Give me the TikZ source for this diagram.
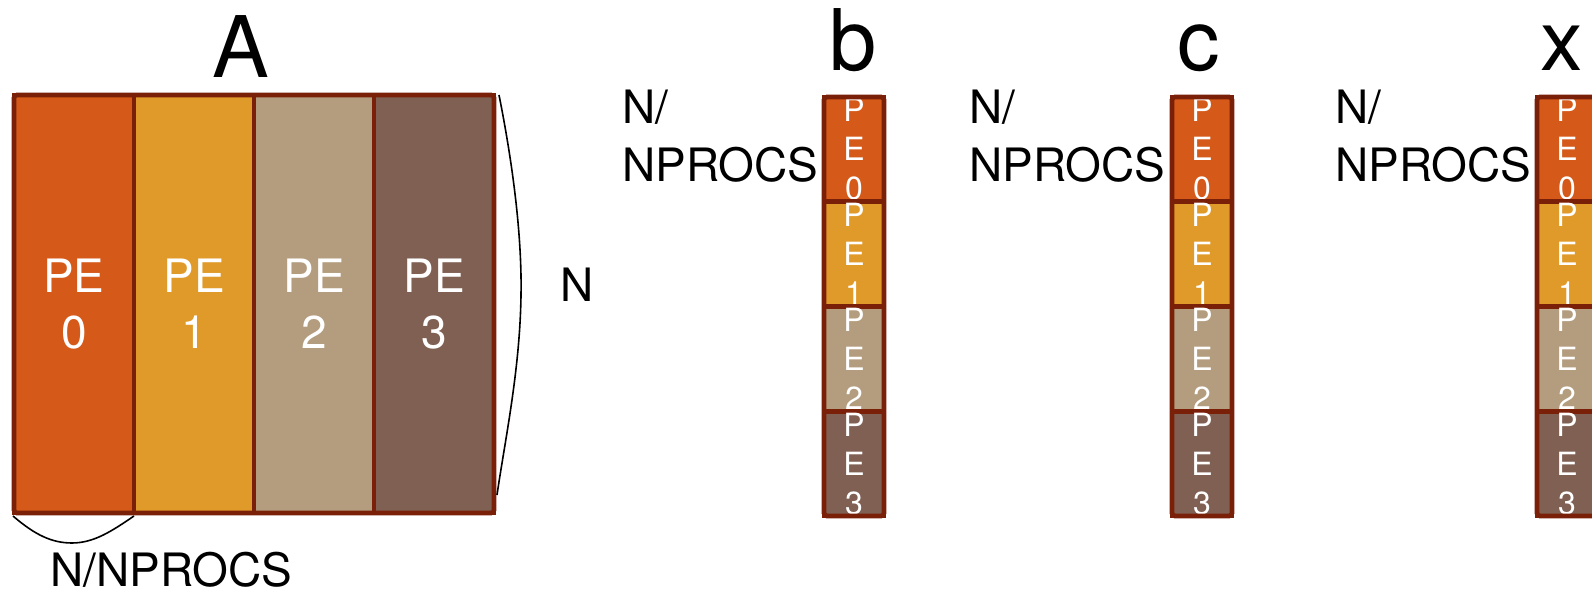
\documentclass[tikz,border=0pt]{standalone}
\usepackage{fontspec}
\setmainfont{TeX Gyre Heros}
\definecolor{pezero}{HTML}{D55A1A}
\definecolor{peone}{HTML}{E09A29}
\definecolor{petwo}{HTML}{B39D7E}
\definecolor{pethree}{HTML}{7F6053}
\definecolor{edge}{HTML}{7A2008}
\begin{document}
\begin{tikzpicture}[x=0.5pt,y=-0.5pt,
  bigcell/.style={draw=edge, line width=2.4pt, minimum width=60pt, minimum height=209pt, inner sep=0pt, outer sep=0pt, text=white, align=center, font=\fontsize{23}{28}\selectfont},
  vcell/.style={draw=edge, line width=2.4pt, minimum width=30pt, minimum height=52.375pt, inner sep=0pt, outer sep=0pt, text=white, align=center, font=\fontsize{16}{19.5}\selectfont},
  frame/.style={draw=edge, line width=2.4pt, rounded corners=1.5pt},
  title/.style={font=\fontsize{42.5}{50}\selectfont, anchor=base, inner sep=0pt},
  lbl/.style={font=\fontsize{23}{29}\selectfont, inner sep=0pt, align=left, anchor=base west},
  brace/.style={draw=black, line width=0.8pt}
]
\useasboundingbox (0,0) rectangle (1592,592);

% matrix A
\node[bigcell, fill=pezero]  (A0) at (74,304)  {PE\\0};
\node[bigcell, fill=peone]   (A1) at (194,304) {PE\\1};
\node[bigcell, fill=petwo]   (A2) at (314,304) {PE\\2};
\node[bigcell, fill=pethree] (A3) at (434,304) {PE\\3};
\draw[frame] (A0.north west) rectangle (A3.south east);
\node[title] (tA) at (241,78) {A};
\draw[brace] (499,95) .. controls (514,170) and (522,240) .. (521,295) .. controls (520,370) and (505,440) .. (497,495);
\node[lbl] (lN) at (560,302) {N};
\draw[brace] (13,516) .. controls (35,535) and (52,543) .. (72,543) .. controls (94,543) and (112,531) .. (134,516);
\node[lbl] (lNb) at (50,587) {N/NPROCS};

% vectors b, c, x
\foreach \name/\cx/\tx/\lx in {b/854/853/622, c/1202/1199/969, x/1567/1562/1335}{
  \node[vcell, fill=pezero]  (\name0) at (\cx,149.375) {P\\E\\0};
  \node[vcell, fill=peone]   (\name1) at (\cx,254.125) {P\\E\\1};
  \node[vcell, fill=petwo]   (\name2) at (\cx,358.875) {P\\E\\2};
  \node[vcell, fill=pethree] (\name3) at (\cx,463.625) {P\\E\\3};
  \draw[frame] (\name0.north west) rectangle (\name3.south east);
  \node[title] (t\name) at (\tx,71) {\name};
  \node[lbl] (l\name) at (\lx,182) {N/\\NPROCS};
}
\end{tikzpicture}
\end{document}
